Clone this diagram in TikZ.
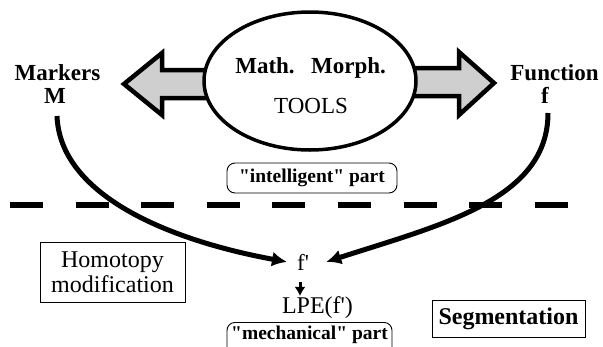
\documentclass[tikz,border=0pt]{standalone}
\usepackage{fontspec}
\setmainfont{Liberation Serif}
\usetikzlibrary{arrows.meta,shapes.geometric}
\begin{document}
\begin{tikzpicture}[x=1pt,y=-1pt,
  boldtxt/.style={font=\fontsize{23}{26}\selectfont\bfseries, inner sep=0pt},
  regtxt/.style={font=\fontsize{23}{26}\selectfont, inner sep=0pt},
  tag/.style={draw, rounded corners=8pt, line width=0.9pt, font=\fontsize{19.5}{22}\selectfont\bfseries},
  plainbox/.style={draw, line width=0.9pt},
  blockarrow/.style={draw, line width=4.5pt, fill=gray!38, line join=miter},
  flow/.style={line width=5pt, -{Latex[length=15pt,width=15pt]}},
]
\useasboundingbox (0,0) rectangle (603,346);
\clip (0,0) rectangle (603,346);

% block arrows
\draw[blockarrow] (240,70) -- (162,70) -- (162,53) -- (124,84) -- (162,115) -- (162,98) -- (240,98) -- cycle;
\draw[blockarrow] (380,68) -- (459,68) -- (459,52) -- (494,83) -- (459,115) -- (459,96) -- (380,96) -- cycle;

% ellipse
\node[draw, ellipse, line width=3.5pt, fill=white, minimum width=212pt, minimum height=138pt, inner sep=0pt] (tools) at (310,81) {};
\node[boldtxt, anchor=base] (math) at (265,73) {Math.};
\node[boldtxt, anchor=base] (morph) at (348.5,73) {Morph.};
\node[regtxt, anchor=base] (toolsT) at (311,113) {TOOLS};

% side labels
\node[boldtxt, anchor=base] (markers) at (57.5,80) {Markers};
\node[boldtxt, anchor=base] (mM) at (55,103) {M};
\node[boldtxt, anchor=base] (function) at (554.5,80) {Function};
\node[boldtxt, anchor=base] (ff) at (545,103) {f};

% tags
\node[tag, minimum width=170pt, minimum height=30pt] (intel) at (312,178) {\textquotedbl intelligent\textquotedbl{} part};
\node[tag, minimum width=165pt, text height=14pt, text depth=24pt, inner sep=3pt, anchor=north] (mech) at (309.5,322) {\textquotedbl mechanical\textquotedbl{} part};

% dashed separator
\coordinate (dl) at (10,205);
\coordinate (dr) at (568,205);
\draw[line width=5.5pt, dash pattern=on 33pt off 32.6pt] (dl) -- (dr);

% f' and LPE
\node[regtxt, anchor=base west] (fp) at (297,270) {f\textquotesingle};
\node[font=\fontsize{24}{26}\selectfont, inner sep=0pt, anchor=base] (lpe) at (317.5,313) {LPE(f\textquotesingle)};
\coordinate (ar) at ([xshift=3pt,yshift=-12pt]fp.base west);
\draw[line width=3pt, -{Latex[length=9pt,width=11pt]}] (ar) -- (ar |- lpe.north);

% curves
\coordinate (mstart) at (57,116);
\coordinate (fstart) at (548,113);
\draw[flow] (mstart) .. controls (60,195) and (168,240) .. ([xshift=-10pt]fp.west);
\draw[flow] (fstart) .. controls (548,200) and (440,225) .. ([xshift=17pt]fp.east);

% boxes
\node[plainbox, font=\fontsize{24}{25}\selectfont, align=center, minimum width=145pt, minimum height=60pt, inner sep=2pt] (homo) at (112.5,272) {Homotopy\\modification};
\node[plainbox, font=\fontsize{24}{26}\selectfont\bfseries, minimum width=153pt, minimum height=37pt, inner sep=2pt] (seg) at (508.5,318.5) {Segmentation};
\end{tikzpicture}
\end{document}
